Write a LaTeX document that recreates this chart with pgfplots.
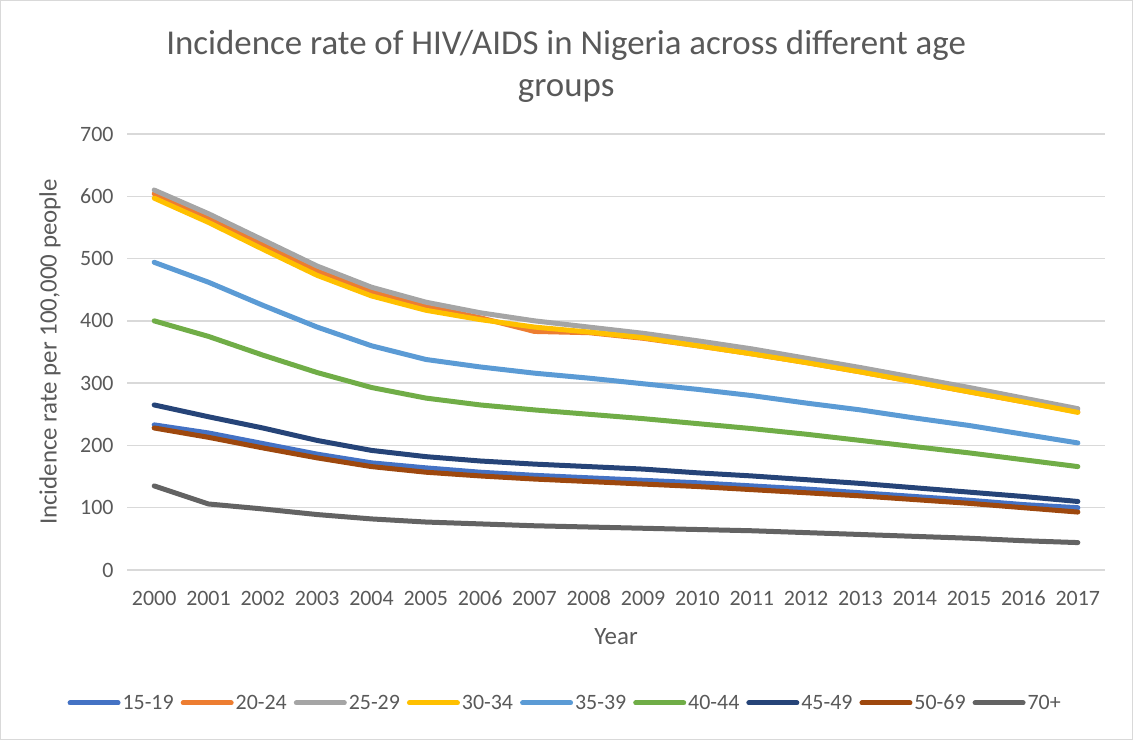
\documentclass[border=0pt]{standalone}
\usepackage{fontspec}
\setmainfont{Carlito}
\usepackage{pgfplots}
\pgfplotsset{compat=1.18}

\definecolor{txt}{HTML}{595959}
\definecolor{gridc}{HTML}{D9D9D9}
\definecolor{frame}{HTML}{D9D9D9}
\definecolor{sA}{HTML}{4472C4}
\definecolor{sB}{HTML}{ED7D31}
\definecolor{sC}{HTML}{A5A5A5}
\definecolor{sD}{HTML}{FFC000}
\definecolor{sE}{HTML}{5B9BD5}
\definecolor{sF}{HTML}{70AD47}
\definecolor{sG}{HTML}{264478}
\definecolor{sH}{HTML}{9E480E}
\definecolor{sI}{HTML}{636363}

% columns: year, then the nine age groups
\pgfplotstableread{
year a1519 a2024 a2529 a3034 a3539 a4044 a4549 a5069 a70
2000 233 604 610 597 494 400 265 228 135
2001 220 565 572 558 462 375 246 213 106
2002 203 522 530 515 425 345 228 196 98
2003 186 480 488 473 390 317 208 180 89
2004 172 447 454 440 360 293 192 166 82
2005 164 423 430 417 338 276 182 157 77
2006 157 405 413 402 326 265 175 151 74
2007 152 383 400 390 316 257 170 146 71
2008 148 381 390 382 308 250 166 142 69
2009 144 372 380 373 299 243 162 138 67
2010 140 360 368 360 290 235 156 134 65
2011 135 347 355 347 280 227 151 129 63
2012 130 333 340 333 268 218 145 124 60
2013 124 318 325 318 257 208 139 119 57
2014 118 302 309 302 244 198 132 113 54
2015 112 286 293 286 232 188 125 107 51
2016 105 270 276 270 218 177 118 100 47
2017 100 254 259 253 204 166 110 93 44
}\hivdata

\begin{document}
\begin{tikzpicture}[x=1bp,y=1bp]
\draw[frame, line width=1bp] (0.5,0.5) rectangle (1132.5,739.5);
\begin{axis}[
    at={(127bp,170bp)}, anchor=south west,
    scale only axis, width=978bp, height=436bp,
    xmin=1999.5, xmax=2017.5, ymin=0, ymax=700,
    xtick={2000,...,2017}, ytick={0,100,...,700},
    /pgf/number format/.cd, 1000 sep={}, assume math mode=true, /pgfplots/.cd,
    axis line style={draw=none},
    major tick style={draw=none},
    ymajorgrids, grid style={gridc, line width=1.3bp},
    tick label style={font=\fontsize{22}{26}\selectfont, text=txt},
    xticklabel style={anchor=base, yshift=-36bp},
    yticklabel style={xshift=-10bp},
    title={Incidence rate of HIV/AIDS in Nigeria across different age\\groups},
    title style={font=\fontsize{35}{42}\selectfont, text=txt, align=center,
        at={(axis description cs:0.449,1.142)}, anchor=center},
    xlabel={Year},
    xlabel style={font=\fontsize{25}{30}\selectfont, text=txt,
        at={(axis description cs:0.5,-0.152)}, anchor=center},
    ylabel={Incidence rate per 100,000 people},
    ylabel style={font=\fontsize{25}{30}\selectfont, text=txt,
        at={(axis description cs:-0.0787,0.5)}, anchor=center, rotate=0},
    legend columns=9,
    legend style={draw=none, fill=none, font=\fontsize{22}{26}\selectfont, text=txt,
        at={(axis description cs:0.448,-0.305)}, anchor=center,
        /tikz/every even column/.append style={column sep=5bp}},
    legend image code/.code={\draw[line width=5bp, line cap=round] (0bp,0bp) -- (48bp,0bp);},
    every axis plot/.append style={line width=5bp, line join=round, line cap=round},
]
\addplot[sA] table[x=year, y=a1519] {\hivdata};
\addlegendentry{15-19}
\addplot[sB] table[x=year, y=a2024] {\hivdata};
\addlegendentry{20-24}
\addplot[sC] table[x=year, y=a2529] {\hivdata};
\addlegendentry{25-29}
\addplot[sD] table[x=year, y=a3034] {\hivdata};
\addlegendentry{30-34}
\addplot[sE] table[x=year, y=a3539] {\hivdata};
\addlegendentry{35-39}
\addplot[sF] table[x=year, y=a4044] {\hivdata};
\addlegendentry{40-44}
\addplot[sG] table[x=year, y=a4549] {\hivdata};
\addlegendentry{45-49}
\addplot[sH] table[x=year, y=a5069] {\hivdata};
\addlegendentry{50-69}
\addplot[sI] table[x=year, y=a70] {\hivdata};
\addlegendentry{70+}
\end{axis}
\end{tikzpicture}
\end{document}
